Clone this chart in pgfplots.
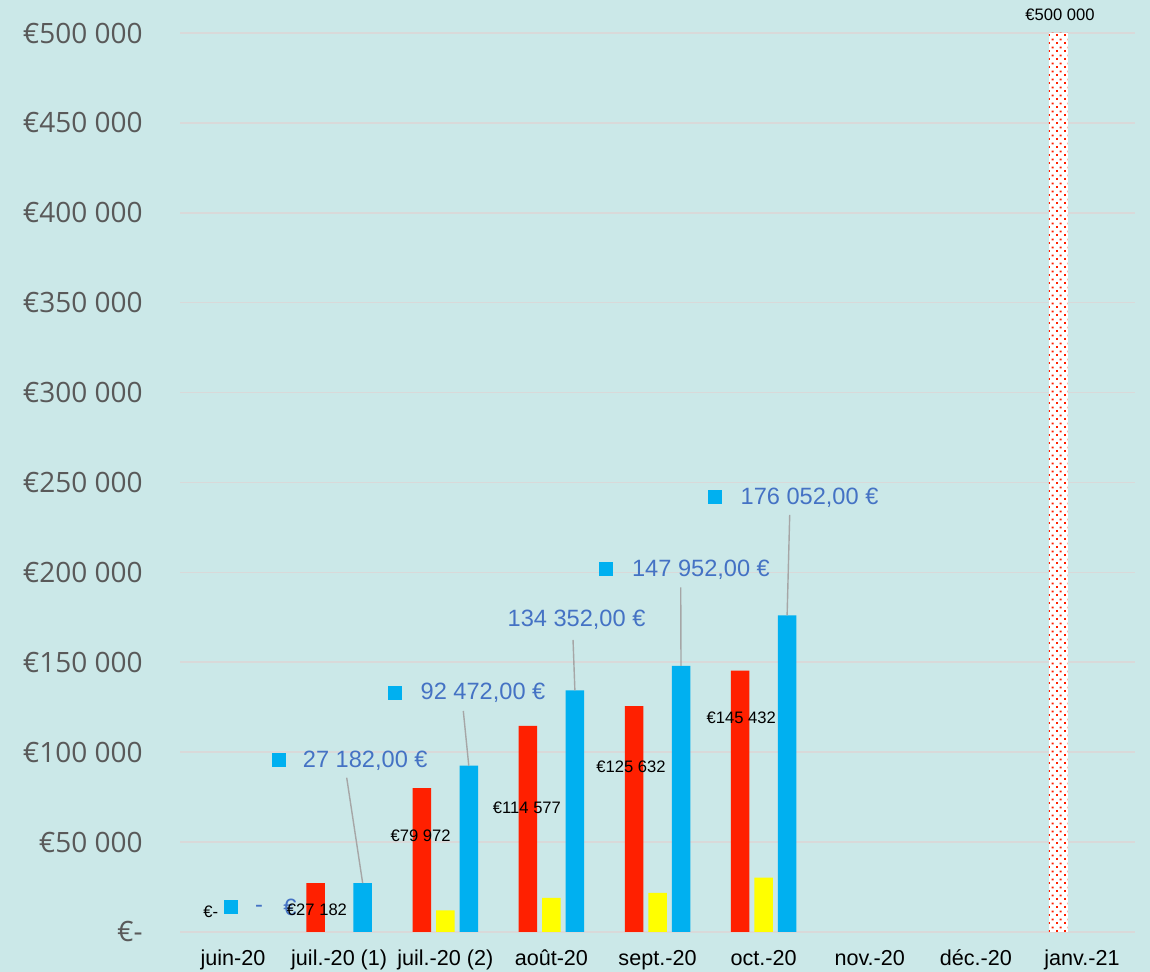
\documentclass[border=0pt]{standalone}
\usepackage{fontspec}
\setmainfont{Liberation Sans}
\newfontfamily\tickfont{Open Sans}
\usepackage{pgfplots}
\pgfplotsset{compat=1.18}
\usetikzlibrary{patterns.meta}
\definecolor{bg}{HTML}{CBE8E8}
\definecolor{gridc}{HTML}{D9D9D9}
\definecolor{cred}{HTML}{FF2000}
\definecolor{cyel}{HTML}{FFFF00}
\definecolor{cblue}{HTML}{00B0F0}
\definecolor{lblue}{HTML}{4472C4}
\definecolor{tickgray}{HTML}{595959}
\definecolor{leader}{HTML}{A6A6A6}
\tikzdeclarepattern{name=sqdots, type=uncolored, bounding box={(0,0) and (4pt,4pt)}, tile size={(4pt,4pt)},
  code={\fill (0pt,0pt) rectangle (1pt,1pt); \fill (2pt,2pt) rectangle (3pt,3pt);}}
\begin{document}
\begin{tikzpicture}
\fill[bg] (0,0) rectangle (575pt,486pt);
\begin{axis}[at={(90pt,20pt)}, anchor=south west, scale only axis,
  width=477.5pt, height=449.5pt,
  xmin=-0.5, xmax=8.5, ymin=0, ymax=500000,
  scaled y ticks=false,
  axis line style={draw=none}, major tick length=0pt,
  ymajorgrids, grid style={gridc, line width=0.8pt},
  ytick={0,50000,100000,150000,200000,250000,300000,350000,400000,450000,500000},
  yticklabels={€-, €50 000, €100 000, €150 000, €200 000, €250 000, €300 000, €350 000, €400 000, €450 000, €500 000},
  yticklabel style={font=\tickfont\fontsize{14}{16}\selectfont, text=tickgray, anchor=east, inner sep=0pt, xshift=-18.5pt},
  xtick={0,1,2,3,4,5,6,7,8},
  xticklabels={juin-20, juil.-20 (1), juil.-20 (2), août-20, sept.-20, oct.-20, nov.-20, déc.-20, janv.-21},
  xticklabel style={font=\fontsize{10.8}{13}\selectfont, anchor=base, inner sep=0pt, yshift=-17pt},
  clip=false,
]
% red series
\addplot[ybar, bar width=9.25pt, bar shift=-11.75pt, fill=cred, draw=none]
  coordinates {(1,27182) (2,79972) (3,114577) (4,125632) (5,145432)};
% yellow series
\addplot[ybar, bar width=9.25pt, bar shift=0pt, fill=cyel, draw=none]
  coordinates {(2,12000) (3,19000) (4,21700) (5,30200)};
% blue series
\addplot[ybar, bar width=9.25pt, bar shift=11.75pt, fill=cblue, draw=none]
  coordinates {(1,27182) (2,92472) (3,134352) (4,147952) (5,176052)};
% target
\addplot[ybar, bar width=9.5pt, bar shift=-11.75pt, fill=white, draw=none,
  postaction={pattern={sqdots}, pattern color=cred}]
  coordinates {(8,500000)};
\node[font=\fontsize{8.3}{10}\selectfont] at (axis cs:7.794,510030) {€500 000};
% leader lines
\draw[leader, line width=0.7pt] (axis cs:1.071,85820) -- (axis cs:1.2215,27182);
\draw[leader, line width=0.7pt] (axis cs:2.170,122920) -- (axis cs:2.2215,92472);
\draw[leader, line width=0.7pt] (axis cs:3.204,162410) -- (axis cs:3.2215,134352);
\draw[leader, line width=0.7pt] (axis cs:4.219,191720) -- (axis cs:4.2215,147952);
\draw[leader, line width=0.7pt] (axis cs:5.246,231930) -- (axis cs:5.2215,176052);
% blue label keys
\addplot[only marks, mark=square*, mark size=3.25pt, color=cblue]
  coordinates {(-0.019,14070) (0.428,95670) (1.522,132770) (3.510,201900) (4.537,242110)};
% blue labels
\begin{scope}[every node/.style={font=\fontsize{11.8}{14}\selectfont, text=lblue, inner sep=0pt}]
\node at (axis cs:0.245,12790) {-};
\node at (axis cs:0.537,13900) {€};
\node at (axis cs:1.246,95110) {27 182,00 €};
\node at (axis cs:2.356,132930) {92 472,00 €};
\node at (axis cs:3.237,173530) {134 352,00 €};
\node at (axis cs:4.410,201340) {147 952,00 €};
\node at (axis cs:5.433,241390) {176 052,00 €};
\end{scope}
% red labels
\begin{scope}[every node/.style={font=\fontsize{8.3}{10}\selectfont, inner sep=0pt}]
\node at (axis cs:-0.21,11100) {€-};
\node at (axis cs:0.791,12236) {€27 182};
\node at (axis cs:1.767,53560) {€79 972};
\node at (axis cs:2.77,69130) {€114 577};
\node at (axis cs:3.75,91770) {€125 632};
\node at (axis cs:4.79,119190) {€145 432};
\end{scope}
\end{axis}
\end{tikzpicture}
\end{document}
